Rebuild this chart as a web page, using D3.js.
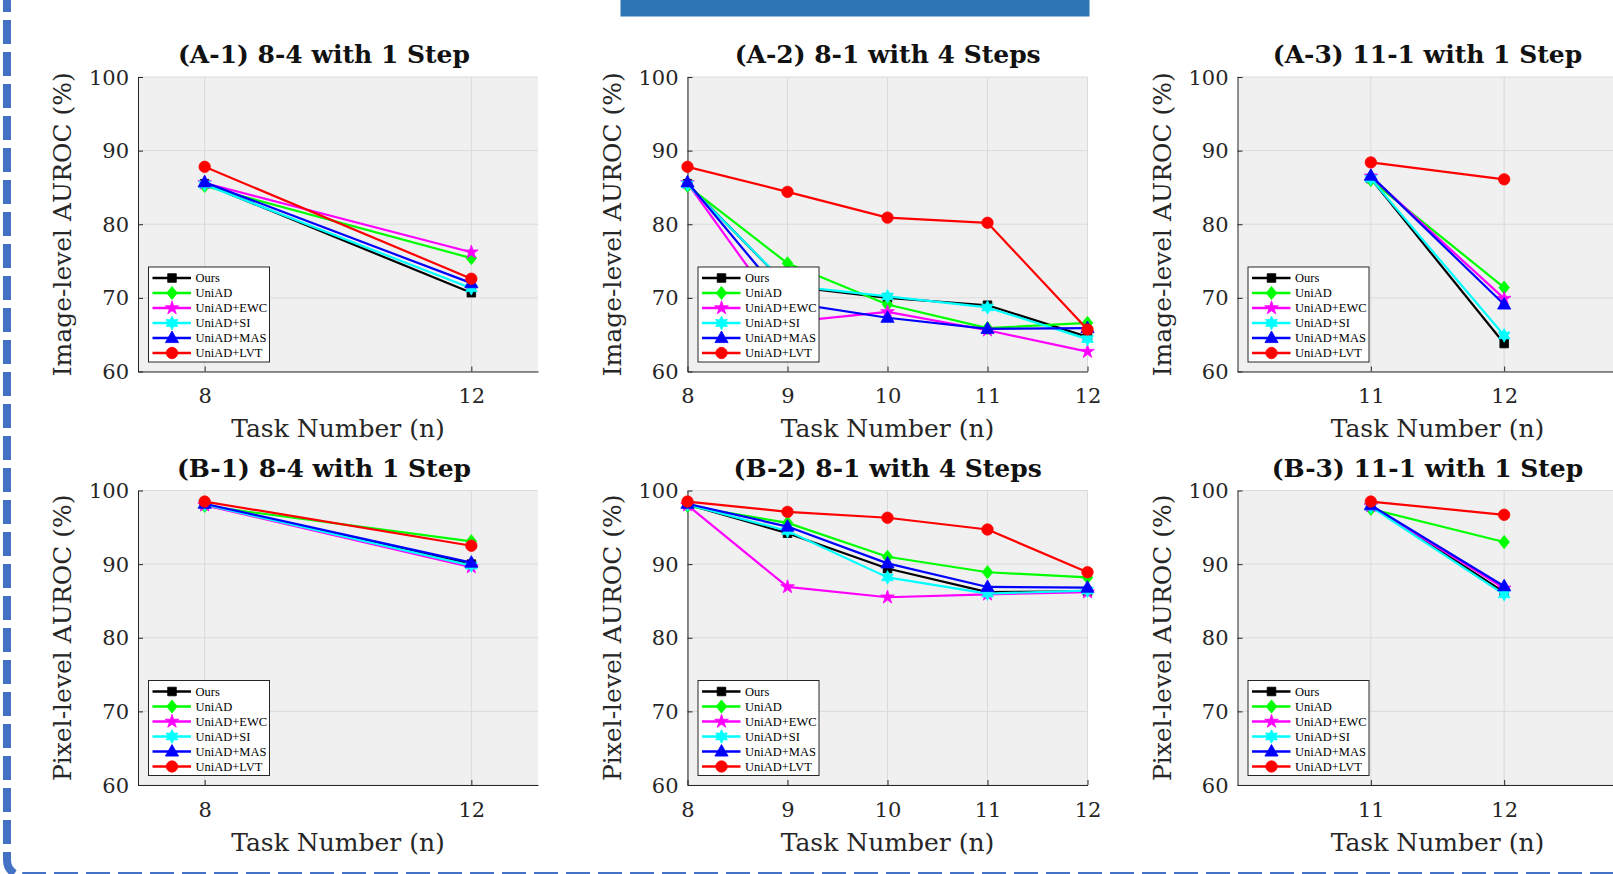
<!DOCTYPE html>
<html><head><meta charset="utf-8">
<script src="https://cdn.jsdelivr.net/npm/d3@7"></script>
<style>
html,body{margin:0;padding:0;background:#fff;overflow:hidden;}
svg{display:block;}
</style></head>
<body>
<svg id="chart" width="1613" height="874"></svg>
<script>
// ---------- DATA ----------
const seriesNames = ["Ours", "UniAD", "UniAD+EWC", "UniAD+SI", "UniAD+MAS", "UniAD+LVT"];
const yTicks = [60, 70, 80, 90, 100];

const tasks84 = [8, 12];
const tasks81 = [8, 9, 10, 11, 12];
const tasks111 = [11, 12];

// rows follow seriesNames order
const imageA1 = [
  [85.5, 70.7],
  [85.2, 75.4],
  [85.6, 76.2],
  [85.4, 71.3],
  [85.7, 72.0],
  [87.8, 72.6]
];
const imageA2 = [
  [85.5, 71.6, 70.0, 69.0, 64.7],
  [85.2, 74.7, 69.1, 65.9, 66.6],
  [85.6, 66.7, 68.1, 65.6, 62.7],
  [85.4, 71.7, 70.2, 68.7, 64.4],
  [85.7, 69.4, 67.3, 65.8, 65.9],
  [87.8, 84.4, 80.9, 80.2, 65.7]
];
const imageA3 = [
  [86.2, 63.8],
  [86.0, 71.4],
  [86.5, 69.9],
  [86.2, 64.9],
  [86.6, 69.1],
  [88.4, 86.1]
];
const pixelB1 = [
  [98.1, 90.0],
  [97.9, 93.1],
  [98.0, 89.6],
  [98.1, 89.8],
  [98.2, 90.2],
  [98.5, 92.5]
];
const pixelB2 = [
  [98.1, 94.2, 89.4, 86.2, 86.3],
  [97.9, 95.6, 91.0, 88.9, 88.2],
  [98.0, 86.9, 85.5, 85.9, 86.2],
  [98.1, 94.5, 88.2, 86.0, 86.4],
  [98.2, 95.1, 90.1, 86.9, 86.8],
  [98.5, 97.1, 96.3, 94.7, 88.9]
];
const pixelB3 = [
  [97.9, 86.2],
  [97.5, 93.0],
  [97.9, 86.7],
  [97.8, 85.9],
  [98.0, 87.0],
  [98.5, 96.7]
];

const panelTitles = ["(A-1) 8-4 with 1 Step", "(A-2) 8-1 with 4 Steps", "(A-3) 11-1 with 1 Step",
                     "(B-1) 8-4 with 1 Step", "(B-2) 8-1 with 4 Steps", "(B-3) 11-1 with 1 Step"];
const yLabels = ["Image-level AUROC (%)", "Pixel-level AUROC (%)"];
const xLabel = "Task Number (n)";

// ---------- STYLE / LAYOUT ----------
const seriesStyle = [
  {color: "#000000", marker: "square"},
  {color: "#00ff00", marker: "diamond"},
  {color: "#ff00ff", marker: "pentagram"},
  {color: "#00ffff", marker: "hexagram"},
  {color: "#0000ff", marker: "triangle"},
  {color: "#ff0000", marker: "circle"}
];
const colLeft = [138, 687.5, 1237.5];
const titleCx = [324, 887.7, 1427.5];
const rowTop = [77, 490.5];
const plotW = 400, plotH = 294.5;
const SERIF = "'DejaVu Serif', 'Liberation Serif', serif";
const AXC = "#262626";

const panels = [
  {row: 0, col: 0, tasks: tasks84, values: imageA1, xDomain: [7, 13]},
  {row: 0, col: 1, tasks: tasks81, values: imageA2, xDomain: [8, 12]},
  {row: 0, col: 2, tasks: tasks111, values: imageA3, xDomain: [10, 13]},
  {row: 1, col: 0, tasks: tasks84, values: pixelB1, xDomain: [7, 13]},
  {row: 1, col: 1, tasks: tasks81, values: pixelB2, xDomain: [8, 12]},
  {row: 1, col: 2, tasks: tasks111, values: pixelB3, xDomain: [10, 13]}
];

// marker shapes
const markerTypes = {
  square: {draw(c, s) { const h = 4.3; c.rect(-h, -h, 2 * h, 2 * h); }},
  diamond: {draw(c, s) { c.moveTo(0, -6.6); c.lineTo(5.3, 0); c.lineTo(0, 6.6); c.lineTo(-5.3, 0); c.closePath(); }},
  circle: {draw(c, s) { c.moveTo(5.7, 0); c.arc(0, 0, 5.7, 0, 2 * Math.PI); }},
  triangle: {draw(c, s) { c.moveTo(0, -7); c.lineTo(6.6, 4.6); c.lineTo(-6.6, 4.6); c.closePath(); }},
  pentagram: {draw(c, s) {
    const R = 7.2, r = R * 0.382;
    for (let i = 0; i < 10; i++) {
      const a = -Math.PI / 2 + i * Math.PI / 5, rr = i % 2 ? r : R;
      const px = rr * Math.cos(a), py = rr * Math.sin(a);
      i ? c.lineTo(px, py) : c.moveTo(px, py);
    }
    c.closePath();
  }},
  hexagram: {draw(c, s) {
    const R = 6.8, r = R * 0.55;
    for (let i = 0; i < 12; i++) {
      const a = -Math.PI / 2 + i * Math.PI / 6, rr = i % 2 ? r : R;
      const px = rr * Math.cos(a), py = rr * Math.sin(a);
      i ? c.lineTo(px, py) : c.moveTo(px, py);
    }
    c.closePath();
  }}
};
const markerPath = name => d3.symbol().type(markerTypes[name]).size(1)();

const svg = d3.select("#chart");

// ---------- decorations ----------
svg.append("rect").attr("x", 620.5).attr("y", 0).attr("width", 469).attr("height", 16.5).attr("fill", "#2E75B6");
svg.append("path")
  .attr("d", "M7,0 V860 A16,16 0 0 0 23,876 H1613")
  .attr("fill", "none").attr("stroke", "#4472C4").attr("stroke-width", 8)
  .attr("stroke-dasharray", "24 8").attr("stroke-dashoffset", 12);

// ---------- panels ----------
panels.forEach((p, pi) => {
  const left = colLeft[p.col], top = rowTop[p.row];
  const x = d3.scaleLinear().domain(p.xDomain).range([left, left + plotW]);
  const y = d3.scaleLinear().domain([60, 100]).range([top + plotH, top]);
  const g = svg.append("g");

  g.append("rect").attr("x", left).attr("y", top).attr("width", plotW).attr("height", plotH).attr("fill", "#f0f0f0");

  g.append("g").selectAll("line").data(yTicks).join("line")
    .attr("x1", left).attr("x2", left + plotW)
    .attr("y1", d => y(d)).attr("y2", d => y(d))
    .attr("stroke", "#dadada").attr("stroke-width", 1);
  g.append("g").selectAll("line").data(p.tasks).join("line")
    .attr("x1", d => x(d)).attr("x2", d => x(d))
    .attr("y1", top).attr("y2", top + plotH)
    .attr("stroke", "#dadada").attr("stroke-width", 1);

  const ax = g.append("g").attr("transform", `translate(${left},0)`)
    .call(d3.axisLeft(y).tickValues(yTicks).tickSizeInner(-5).tickSizeOuter(0).tickPadding(9));
  const bx = g.append("g").attr("transform", `translate(0,${top + plotH})`)
    .call(d3.axisBottom(x).tickValues(p.tasks).tickSizeInner(-5).tickSizeOuter(0).tickPadding(0).tickFormat(d3.format("d")));
  [ax, bx].forEach(a => {
    a.attr("font-family", SERIF).attr("font-size", 21);
    a.select(".domain").attr("stroke", AXC).attr("stroke-width", 1);
    a.selectAll(".tick line").attr("stroke", AXC);
    a.selectAll(".tick text").attr("fill", AXC).attr("dy", null).attr("dominant-baseline", "central");
  });
  bx.selectAll(".tick text").attr("y", 24.5);

  const line = d3.line().x((d, i) => x(p.tasks[i])).y(d => y(d));
  p.values.forEach((vals, si) => {
    const st = seriesStyle[si];
    const sg = g.append("g");
    sg.append("path").attr("d", line(vals)).attr("fill", "none")
      .attr("stroke", st.color).attr("stroke-width", 2.2).attr("stroke-linejoin", "round");
    sg.selectAll("path.m").data(vals).join("path").attr("class", "m")
      .attr("d", markerPath(st.marker))
      .attr("transform", (d, i) => `translate(${x(p.tasks[i])},${y(d)})`)
      .attr("fill", st.color).attr("stroke", st.color).attr("stroke-width", 0.8);
  });

  g.append("text").attr("x", titleCx[p.col]).attr("y", top - 14)
    .attr("text-anchor", "middle").attr("font-family", SERIF).attr("font-weight", "bold")
    .attr("font-size", 25).attr("fill", "#111").text(panelTitles[pi]);

  g.append("text").attr("transform", "rotate(-90)")
    .attr("x", -(top + plotH / 2)).attr("y", left - 75.5)
    .attr("text-anchor", "middle").attr("dominant-baseline", "central")
    .attr("font-family", SERIF).attr("font-size", 25).attr("fill", AXC).text(yLabels[p.row]);
  g.append("text").attr("x", left + plotW / 2).attr("y", top + plotH + 57)
    .attr("text-anchor", "middle").attr("dominant-baseline", "central")
    .attr("font-family", SERIF).attr("font-size", 25).attr("fill", AXC).text(xLabel);

  const lw = 121, lh = 95;
  const lg = g.append("g").attr("transform", `translate(${left + 10.5},${top + plotH - 9.5 - lh})`);
  lg.append("rect").attr("width", lw).attr("height", lh).attr("fill", "#fff").attr("stroke", AXC).attr("stroke-width", 1);
  seriesNames.forEach((name, si) => {
    const st = seriesStyle[si];
    const ry = 11 + si * 15;
    lg.append("line").attr("x1", 4).attr("x2", 42.5).attr("y1", ry).attr("y2", ry)
      .attr("stroke", st.color).attr("stroke-width", 2.4);
    lg.append("path").attr("d", markerPath(st.marker)).attr("transform", `translate(23.5,${ry})`)
      .attr("fill", st.color).attr("stroke", st.color).attr("stroke-width", 0.8);
    lg.append("text").attr("x", 47).attr("y", ry).attr("dominant-baseline", "central")
      .attr("font-family", "'Liberation Serif', 'Times New Roman', serif").attr("font-size", 12.5)
      .attr("fill", "#000").text(name);
  });
});
</script>
</body></html>
